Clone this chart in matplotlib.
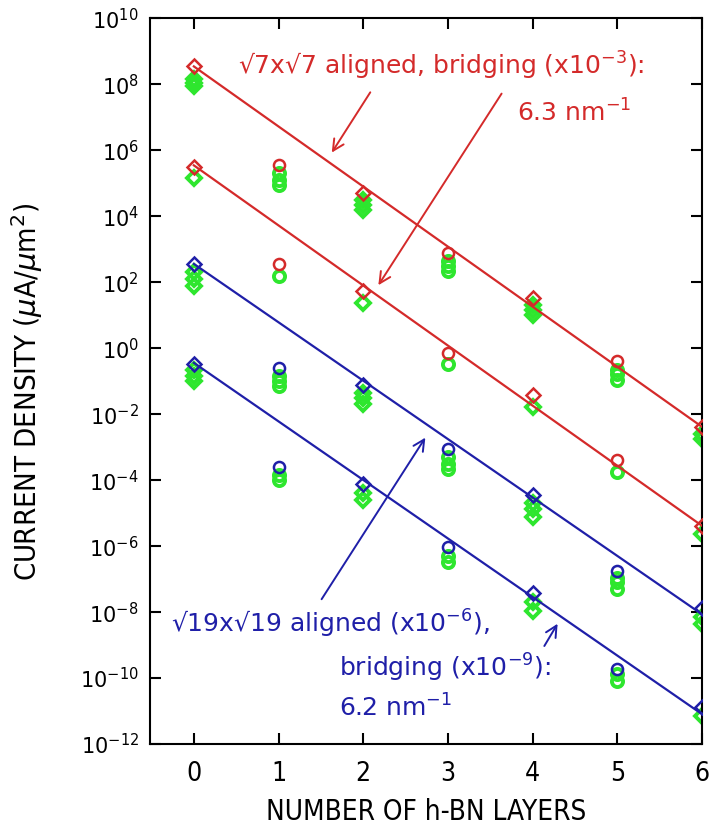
import numpy as np
import matplotlib.pyplot as plt

# number of h-BN layers
layers = [0, 1, 2, 3, 4, 5, 6]

# sqrt7 x sqrt7 aligned (top red) - theory point and green spread
red_top = [3.5e8, 3.5e5, 5.1e4, 7.8e2, 34, 0.40, 4.1e-3]
red_top_green = [[1.5e8, 1.1e8, 8.7e7], [2.0e5, 1.3e5, 8.9e4], [3.2e4, 2.2e4, 1.6e4],
                 [450, 320, 220], [20, 14, 10], [0.22, 0.16, 0.11], [2.5e-3, 1.8e-3]]
red_top_fit = [3.5e8, 4.1e-3]

# sqrt7 x sqrt7 bridging (x10^-3)
red_bot = [3.2e5, 350, 56, 0.74, 0.037, 4.1e-4, 4.2e-6]
red_bot_green = [[1.45e5], [150], [24], [0.33], [0.016], [1.8e-4], [2.4e-6]]
red_bot_fit = [3.5e5, 4.1e-6]

# sqrt19 x sqrt19 aligned (x10^-6)
blue_top = [350, 0.25, 0.076, 8.7e-4, 3.5e-5, 1.8e-7, 1.3e-8]
blue_top_green = [[200, 126, 79], [0.14, 0.10, 0.071], [0.045, 0.032, 0.020],
                  [5.0e-4, 3.2e-4, 2.2e-4], [2.0e-5, 1.3e-5, 7.9e-6],
                  [1.1e-7, 7.9e-8, 5.0e-8], [7.1e-9, 4.5e-9]]
blue_top_fit = [3.6e2, 8.5e-9]

# sqrt19 x sqrt19 bridging (x10^-9)
blue_bot = [0.33, 2.5e-4, 7.8e-5, 9.5e-7, 3.7e-8, 1.9e-10, 1.3e-11]
blue_bot_green = [[0.22, 0.14, 0.10], [1.4e-4, 1.0e-4], [4.0e-5, 2.5e-5], [5.0e-7, 3.2e-7],
                  [2.0e-8, 1.1e-8], [1.3e-10, 7.9e-11], [7.1e-12]]
blue_bot_fit = [0.36, 8e-12]

red = '#d42a2a'
blue = '#1f1fa8'
green = '#2ee62e'

fig = plt.figure(figsize=(7.1, 8.36), dpi=100)
ax = fig.add_axes([0.211, 0.110, 0.778, 0.868])
ax.set_yscale('log')


def draw_series(main, greens, fit, color):
    for i, x in enumerate(layers):
        mk = 'D' if x % 2 == 0 else 'o'
        ms = 7 if mk == 'D' else 8
        g = greens[i]
        ax.plot([x] * len(g), g, linestyle='none', marker=mk, ms=ms, mfc='none',
                mec=green, mew=2.8, zorder=2)
        ax.plot([x], [main[i]], linestyle='none', marker=mk, ms=ms, mfc='none',
                mec=color, mew=1.8, zorder=3)
    ax.plot([layers[0], layers[-1]], fit, color=color, lw=1.6, zorder=4)


draw_series(red_top, red_top_green, red_top_fit, red)
draw_series(red_bot, red_bot_green, red_bot_fit, red)
draw_series(blue_top, blue_top_green, blue_top_fit, blue)
draw_series(blue_bot, blue_bot_green, blue_bot_fit, blue)

# labels on the plot
ax.text(0.52, 10**8.57, '√7x√7 aligned, bridging (x10$^{-3}$):', color=red,
        fontsize=18, ha='left', va='center')
ax.text(3.81, 10**7.12, '6.3 nm$^{-1}$', color=red, fontsize=18, ha='left', va='center')
ax.text(-0.27, 10**-8.37, '√19x√19 aligned (x10$^{-6}$),', color=blue,
        fontsize=18, ha='left', va='center')
ax.text(1.71, 10**-9.70, 'bridging (x10$^{-9}$):', color=blue, fontsize=18,
        ha='left', va='center')
ax.text(1.71, 10**-10.91, '6.2 nm$^{-1}$', color=blue, fontsize=18, ha='left', va='center')

arrow_red = dict(arrowstyle='->', color=red, lw=1.4, mutation_scale=20)
arrow_blue = dict(arrowstyle='->', color=blue, lw=1.4, mutation_scale=20)
ax.annotate('', xy=(1.61, 10**5.86), xytext=(2.10, 10**7.83), arrowprops=arrow_red)
ax.annotate('', xy=(2.16, 10**1.84), xytext=(3.65, 10**7.79), arrowprops=arrow_red)
ax.annotate('', xy=(2.75, 10**-2.64), xytext=(1.49, 10**-7.68), arrowprops=arrow_blue)
ax.annotate('', xy=(4.31, 10**-8.28), xytext=(4.12, 10**-9.1), arrowprops=arrow_blue)

# axes
ax.set_xlim(-0.52, 6)
ax.set_ylim(1e-12, 1e10)
ax.set_yticks([10.0**k for k in range(-12, 11, 2)])
ax.minorticks_off()
ax.set_xticks(layers)
ax.tick_params(direction='in', length=8, width=1.5, top=True, right=True, pad=8)
ax.tick_params(axis='y', labelsize=15)
ax.tick_params(axis='x', labelsize=19, pad=12)
for lab in ax.get_xticklabels():
    lab.set_fontstretch('condensed')
for sp in ax.spines.values():
    sp.set_linewidth(1.5)

ax.set_xlabel('NUMBER OF h-BN LAYERS', fontsize=20, fontstretch='condensed', labelpad=8)
ax.set_ylabel('CURRENT DENSITY ($\\mu$A/$\\mu$m$^2$)', fontsize=21,
              fontstretch='condensed')
ax.yaxis.set_label_coords(-0.19, 0.485)

plt.savefig('out.png', dpi=100)
